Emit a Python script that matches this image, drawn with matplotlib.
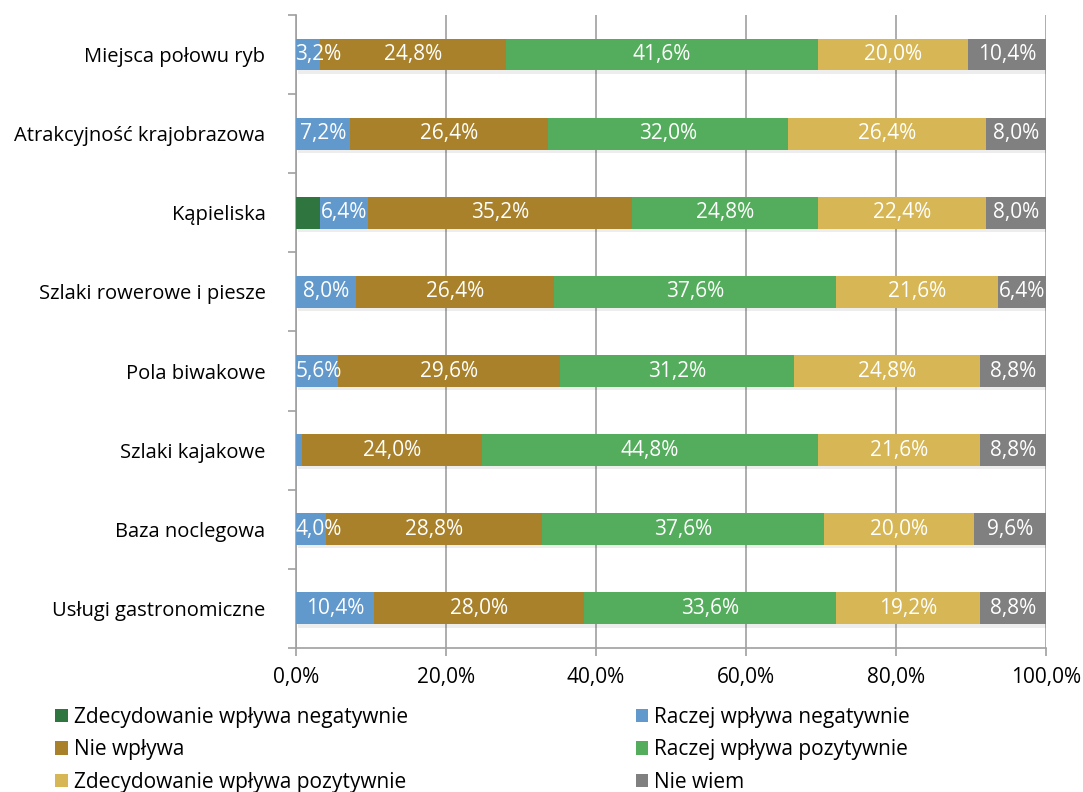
import matplotlib.pyplot as plt
import matplotlib.patheffects as pe
from matplotlib.patches import Patch
import numpy as np

plt.rcParams['font.family'] = ['Open Sans', 'DejaVu Sans']

categories = ["Miejsca połowu ryb", "Atrakcyjność krajobrazowa", "Kąpieliska",
              "Szlaki rowerowe i piesze", "Pola biwakowe", "Szlaki kajakowe",
              "Baza noclegowa", "Usługi gastronomiczne"]
series = ["Zdecydowanie wpływa negatywnie", "Raczej wpływa negatywnie", "Nie wpływa",
          "Raczej wpływa pozytywnie", "Zdecydowanie wpływa pozytywnie", "Nie wiem"]
zdec_neg = [0.0, 0.0, 3.2, 0.0, 0.0, 0.0, 0.0, 0.0]
raczej_neg = [3.2, 7.2, 6.4, 8.0, 5.6, 0.8, 4.0, 10.4]
nie_wplywa = [24.8, 26.4, 35.2, 26.4, 29.6, 24.0, 28.8, 28.0]
raczej_poz = [41.6, 32.0, 24.8, 37.6, 31.2, 44.8, 37.6, 33.6]
zdec_poz = [20.0, 26.4, 22.4, 21.6, 24.8, 21.6, 20.0, 19.2]
nie_wiem = [10.4, 8.0, 8.0, 6.4, 8.8, 8.8, 9.6, 8.8]
colors = ['#2e7540', '#6199cc', '#a8812a', '#54ad5c', '#d6b655', '#808080']
show_labels = [False, True, True, True, True, True]

data = [zdec_neg, raczej_neg, nie_wplywa, raczej_poz, zdec_poz, nie_wiem]

fig = plt.figure(figsize=(10.83, 7.92), dpi=100)
ax = fig.add_axes([0.2733, 0.182, 0.6925, 0.799])

y = np.arange(len(categories))[::-1]
left = np.zeros(len(categories))
shadow = [pe.SimplePatchShadow(offset=(1.5, -2.5), shadow_rgbFace='#000000', alpha=0.07), pe.Normal()]
for vals, col, show in zip(data, colors, show_labels):
    vals = np.array(vals)
    bars = ax.barh(y, vals, left=left, height=0.4, color=col, zorder=3)
    for b in bars:
        b.set_path_effects(shadow)
    if show:
        for yi, l, v in zip(y, left, vals):
            if v >= 2:
                ax.text(max(l + v / 2, 3.0), yi, f"{v:.1f}%".replace('.', ','), ha='center',
                        va='center', color='white', fontsize=15, zorder=5)
    left += vals

ax.set_xlim(0, 100)
ax.set_ylim(-0.5, len(categories) - 0.5)
ax.set_xticks(np.arange(0, 101, 20))
ax.set_xticklabels([f"{v:.1f}%".replace('.', ',') for v in np.arange(0, 101, 20)], fontsize=15)
ax.set_yticks(y)
ax.set_yticklabels(categories, fontsize=14.5)
ax.tick_params(axis='y', length=0, pad=22)
ax.set_yticks(np.arange(-0.5, len(categories), 1), minor=True)
ax.tick_params(axis='y', which='minor', length=6, color='#a0a0a0', width=1.2)
ax.tick_params(axis='x', length=6, color='#a0a0a0', width=1.2, pad=8)
ax.grid(axis='x', color='#a0a0a0', linewidth=1.2, zorder=0)
for s in ['top', 'right']:
    ax.spines[s].set_visible(False)
for s in ['left', 'bottom']:
    ax.spines[s].set_color('#a0a0a0')
    ax.spines[s].set_linewidth(1.2)

handles = [Patch(facecolor=c, label=n) for c, n in zip(colors, series)]
col1 = [handles[0], handles[2], handles[4]]
col2 = [handles[1], handles[3], handles[5]]
kw = dict(loc='lower left', frameon=False, fontsize=15, handlelength=0.6, handleheight=0.6,
          handletextpad=0.3, labelspacing=0.55, borderaxespad=0, borderpad=0)
fig.legend(handles=col1, bbox_to_anchor=(0.051, -0.001), **kw)
fig.legend(handles=col2, bbox_to_anchor=(0.587, -0.001), **kw)

fig.savefig("out.png", dpi=100)
